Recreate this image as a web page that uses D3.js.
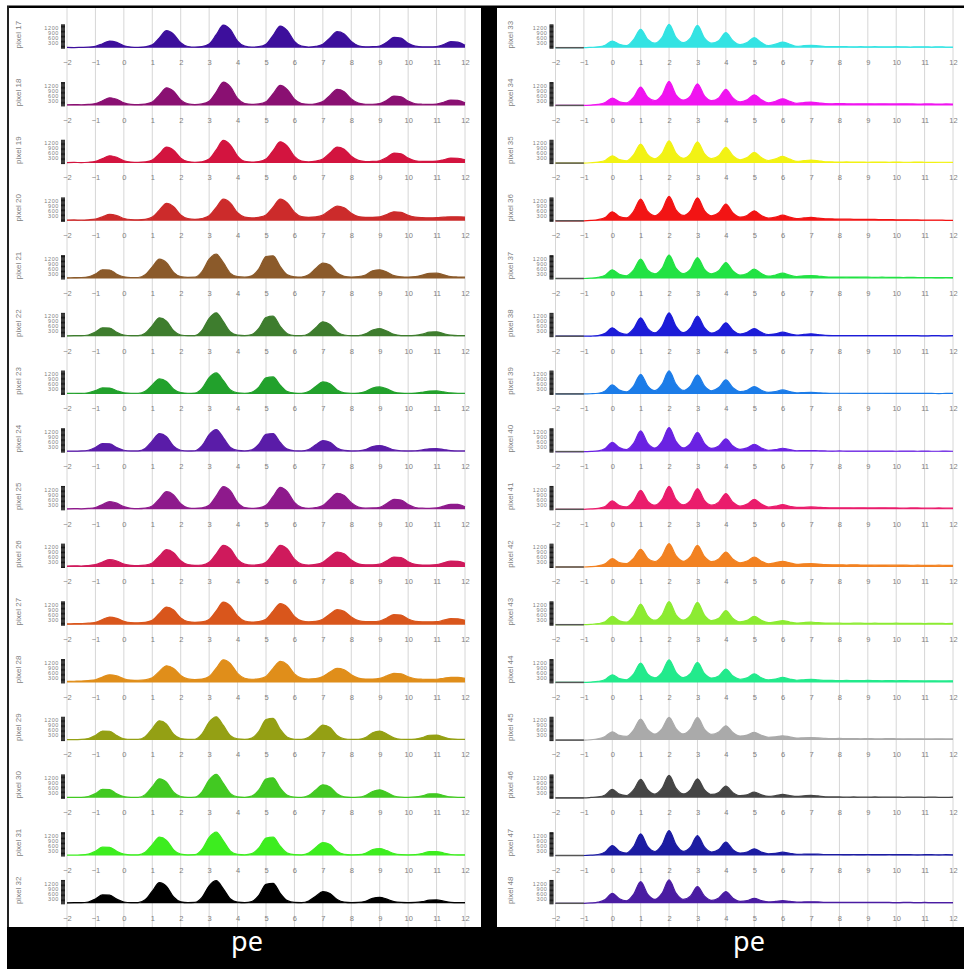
<!DOCTYPE html>
<html><head><meta charset="utf-8">
<script src="https://cdn.jsdelivr.net/npm/d3@7"></script>
<style>body{margin:0;background:#fff}text{font-family:"Liberation Sans",Arial,sans-serif}</style>
</head><body>
<svg id="c" width="964" height="969"></svg>
<script>
// histogram bin centres (pe), step 0.25 from -2 to 12
const binX = [-2,-1.75,-1.5,-1.25,-1,-0.75,-0.5,-0.25,0,0.25,0.5,0.75,1,1.25,1.5,1.75,2,2.25,2.5,2.75,3,3.25,3.5,3.75,4,4.25,4.5,4.75,5,5.25,5.5,5.75,6,6.25,6.5,6.75,7,7.25,7.5,7.75,8,8.25,8.5,8.75,9,9.25,9.5,9.75,10,10.25,10.5,10.75,11,11.25,11.5,11.75,12];
const xTicks = [-2,-1,0,1,2,3,4,5,6,7,8,9,10,11,12];
const yTickLabels = [300,600,900,1200];

const leftPixels = [17,18,19,20,21,22,23,24,25,26,27,28,29,30,31,32];
const rightPixels = [33,34,35,36,37,38,39,40,41,42,43,44,45,46,47,48];
const leftColors = ["#3d0f9c","#8a1072","#d3143f","#cc2b2b","#8b5a2a","#3e7d2e","#22a12c","#5a1ca8","#8e1a8c","#cf1a5c","#d9561c","#e08e1a","#94a014","#42c922","#3ded1f","#000000"];
const rightColors = ["#33e3e3","#f014f0","#f2f214","#f21414","#22e244","#1c1cd8","#1c7ce8","#6a22e2","#ea1c6c","#f28222","#8ceb32","#22ea8c","#aaaaaa","#454545","#1c1ca2","#4a1ca2"];

const p17=[20,10,20,30,80,240,400,320,120,40,20, 50,170,590,1020,810,300,70,30, 60,220,780,1360,1080,400,90,30, 60,210,740,1300,1030,380,90,40, 80,210,590,960,820,380,120,50, 60,100,320,620,570,260,90,50, 50,70,190,360,330,150];
const p18=[40,50,40,60,110,280,460,370,150,60,50, 80,200,620,1060,850,330,100,50, 90,250,800,1400,1110,420,110,60, 90,220,700,1200,950,370,110,60, 100,230,600,960,820,390,140,70, 70,110,310,560,520,260,100,70, 60,80,190,320,300,150];
const p19=[30,40,30,50,100,270,440,350,140,60,40, 70,180,560,960,770,300,90,50, 80,240,790,1360,1080,420,110,60, 90,240,750,1280,1020,400,120,70, 120,250,610,960,830,410,160,90, 100,140,340,600,560,300,140,100, 100,120,200,300,290,200];
const p20=[40,50,40,60,100,240,380,310,140,70,60, 90,220,640,1040,840,350,130,90, 140,300,800,1300,1060,480,220,170, 210,350,820,1300,1070,520,250,200, 230,340,640,880,780,450,250,200, 200,230,380,540,510,330,220,190, 180,190,220,240,240,220];
const p21=[40,50,60,100,270,520,510,260,100,60,60, 220,700,1160,950,370,110,70,80, 420,1160,1460,950,310,110,80, 160,580,1320,1360,720,220,100,90, 220,600,920,810,340,130,90, 110,210,460,520,390,170,100,90, 110,200,310,320,220,110,90,80];
const p22=[20,30,30,70,250,500,490,240,70,30,30, 180,640,1100,900,330,70,30,40, 350,1070,1400,870,250,60,30, 100,470,1120,1200,590,150,40,30, 150,510,860,700,260,70,30, 40,140,370,460,310,110,40,30, 50,120,240,260,150,60,30,30];
const p23=[30,40,30,70,200,360,350,190,70,40,40, 160,540,900,750,280,80,40,50, 330,970,1260,800,240,70,40, 100,410,960,1020,520,140,50,40, 140,440,720,610,240,70,40, 50,140,350,420,300,110,50,40, 50,100,170,180,120,60,40,40];
const p24=[30,30,40,80,250,480,470,240,80,40,40, 190,640,1080,890,330,80,40,50, 350,1020,1320,830,250,70,40, 100,440,1030,1080,550,150,50,40, 130,410,660,560,220,70,40, 50,120,300,360,260,100,50,40, 50,100,170,180,120,60,40,40];
const p25=[30,40,30,50,110,290,460,370,160,60,40, 70,200,630,1060,860,330,90,50, 80,240,800,1360,1100,420,110,60, 90,240,770,1320,1060,410,120,60, 100,230,610,960,830,400,140,70, 80,120,340,600,560,280,110,70, 60,80,190,300,290,150];
const p26=[60,70,60,90,140,300,440,360,180,100,80, 110,240,660,1040,860,380,150,100, 120,280,790,1300,1080,460,170,110, 140,290,800,1300,1080,470,180,120, 160,290,620,900,790,420,190,130, 130,170,380,600,570,320,160,120, 120,140,250,360,340,220];
const p27=[50,60,70,90,140,310,460,380,200,120,110, 140,260,680,1060,880,410,190,140, 170,320,830,1360,1120,520,220,160, 190,330,820,1260,1050,490,230,170, 200,330,640,900,800,460,240,180, 180,220,400,600,580,340,200,170, 170,180,270,360,350,260];
const p28=[60,70,80,110,160,320,460,390,220,140,130, 160,280,660,1000,840,420,210,170, 200,350,850,1360,1130,540,250,190, 220,360,840,1260,1060,510,260,200, 230,350,620,840,760,460,260,200, 200,240,390,540,520,340,220,190, 180,190,250,300,300,240];
const p29=[30,30,40,90,280,540,530,270,80,40,40, 200,690,1160,960,350,90,40,50, 370,1080,1400,880,260,70,40, 120,520,1230,1300,650,170,50,40, 170,540,900,750,280,80,40, 50,160,440,540,370,130,50,40, 60,150,290,300,180,70,40,40];
const p30=[20,30,30,80,250,500,490,240,70,30,30, 190,670,1140,930,340,80,30,40, 360,1070,1400,870,250,60,30, 100,470,1120,1200,590,150,40,30, 140,470,780,650,240,60,30, 40,140,380,480,320,110,40,30, 50,120,230,240,140,50,30,30];
const p31=[30,30,40,80,260,500,490,250,80,40,40, 190,650,1100,910,340,80,40,50, 370,1080,1400,880,260,70,40, 110,450,1050,1100,560,150,50,40, 150,480,780,660,250,70,40, 50,130,350,420,290,110,50,40, 50,120,230,240,150,60,40,40];
const p32=[30,40,40,80,260,500,490,250,80,40,40, 210,730,1240,1020,380,90,40,50, 350,1050,1360,860,260,70,40, 110,480,1140,1200,600,160,50,40, 140,430,700,590,230,70,40, 50,120,300,360,250,100,50,40, 50,100,190,200,130,60,40,40];

const p33=[0,0,0,0,0, 20,50,150,400,200,120, 480,1100,490,270, 600,1400,600,300, 570,1340,570,270, 420,900,420,180, 310,600,310,120, 210,340,210,80, 120,140,110,70, 60,70,60,50,60,50,60,50,50,60,50,40,50,50,40,50,40,40];
const p34=[0,0,0,0,0, 20,60,170,440,220,150, 480,1100,490,290, 620,1440,620,320, 560,1300,560,290, 450,960,450,210, 340,640,340,150, 250,400,250,120, 170,200,160,110, 100,110,100,90,100,100,90,100,90,90,100,90,80,90,90,80,90,80];
const p35=[0,0,0,0,0, 20,60,160,440,210,140, 500,1140,500,260, 580,1340,580,290, 560,1280,560,270, 440,940,440,200, 330,640,330,150, 250,400,240,100, 150,180,140,80, 70,60,70,60,60,50,60,60,50,60,50,50,60,50,40,50,50,40];
const p36=[0,0,0,0,0, 20,70,200,540,260,170, 560,1300,560,300, 640,1460,640,320, 600,1380,600,300, 480,1000,470,220, 320,600,320,160, 220,340,220,130, 170,200,160,120, 110,100,100,90,90,80,80,70,70,60,60,50,50,40,40,40,30,30];
const p37=[0,0,0,0,0, 20,70,190,520,250,160, 500,1160,500,280, 610,1400,610,300, 550,1260,550,280, 460,960,450,200, 300,560,300,140, 210,320,200,120, 160,180,150,100, 90,90,80,90,80,80,70,80,70,70,60,70,60,60,60,50,60,50];
const p38=[0,0,0,0,0, 10,40,170,500,220,110, 450,1100,450,200, 580,1400,580,210, 500,1200,500,190, 360,800,350,130, 230,460,230,90, 140,240,140,60, 110,140,100,50, 40,40,30,40,30,30,40,30,30,30,30,30,30,20,30,30,20,30];
const p39=[0,0,0,0,0, 10,40,180,540,230,120, 470,1180,470,200, 570,1380,570,210, 470,1140,470,190, 380,840,370,140, 220,440,220,90, 140,240,140,60, 80,90,70,50, 40,40,40,30,40,30,30,40,30,30,30,30,30,30,30,20,30,30];
const p40=[0,0,0,0,0, 10,40,190,560,240,120, 490,1240,490,210, 600,1440,600,220, 480,1160,480,190, 340,760,330,130, 220,440,220,80, 120,200,120,50, 60,60,50,40, 30,40,30,30,30,30,30,30,30,20,30,30,20,30,20,20,30,20];
const p41=[0,0,0,0,0, 20,60,170,500,230,140, 480,1140,480,250, 580,1380,580,270, 520,1240,520,250, 430,940,420,190, 310,600,310,130, 190,280,180,110, 120,140,120,100, 90,90,90,80,90,80,80,90,80,80,70,80,80,70,70,80,70,70];
const p42=[0,0,0,0,0, 20,70,190,500,260,200, 520,1060,520,320, 660,1400,660,340, 620,1300,620,320, 480,900,470,250, 360,600,350,190, 260,340,250,160, 190,200,180,140, 130,130,120,130,120,120,110,120,110,110,120,100,110,100,100,110,100,100];
const p43=[0,0,0,0,0, 20,60,170,500,230,150, 520,1240,520,270, 580,1380,580,280, 560,1340,560,250, 380,840,380,170, 260,500,260,120, 170,240,160,100, 130,150,120,100, 90,90,80,90,90,80,90,80,80,90,80,80,80,70,80,80,70,80];
const p44=[0,0,0,0,0, 20,60,170,460,230,160, 500,1160,500,280, 590,1360,590,290, 520,1200,520,260, 380,800,380,190, 280,520,280,150, 200,300,200,130, 160,180,150,120, 120,110,120,110,110,120,110,100,110,100,110,100,100,90,100,90,90,100];
const p45=[0,0,0,0,0, 20,80,220,500,280,220, 600,1260,620,360, 680,1360,680,370, 660,1360,640,340, 480,860,450,240, 300,460,290,170, 200,260,190,120, 140,150,130,100, 90,100,90,90,80,90,80,80,90,80,70,80,80,70,70,80,70,70];
const p46=[0,0,0,0,0, 20,50,170,500,220,130, 470,1100,470,220, 560,1340,560,230, 480,1140,480,200, 320,700,310,130, 180,340,180,90, 130,200,130,80, 120,150,110,60, 50,50,40,50,40,40,50,40,40,40,30,40,40,30,40,30,30,40];
const p47=[0,0,0,0,0, 20,60,210,600,260,150, 530,1300,530,240, 640,1500,640,250, 500,1200,500,210, 360,800,350,150, 210,400,210,100, 130,200,130,70, 80,90,80,60, 60,60,50,60,50,60,50,50,60,50,50,50,40,50,50,40,50,40];
const p48=[0,0,0,0,0, 20,70,220,600,270,150, 540,1300,540,240, 600,1400,590,230, 430,1000,430,180, 320,700,310,120, 160,300,160,80, 110,160,110,70, 80,90,80,60, 60,60,50,60,50,50,60,50,50,40,50,50,40,50,40,40,40,40];

const leftSeries = [p17,p18,p19,p20,p21,p22,p23,p24,p25,p26,p27,p28,p29,p30,p31,p32];
const rightSeries = [p33,p34,p35,p36,p37,p38,p39,p40,p41,p42,p43,p44,p45,p46,p47,p48];

const svg = d3.select("#c");
const rowBase = i => i < 15 ? 47.7 + 57.7*i : 903.3;
const FONT = "Liberation Sans, Arial, sans-serif";

const panels = [
  {range:[67,465], pixels:leftPixels, colors:leftColors, series:leftSeries, labelX:18, peX:247, underflow:false},
  {range:[555.5,953], pixels:rightPixels, colors:rightColors, series:rightSeries, labelX:510, peX:749, underflow:true}
];

panels.forEach(p => {
  const xs = d3.scaleLinear().domain([-2,12]).range(p.range);
  const g = svg.append("g");
  g.selectAll("line.grid").data(xTicks).join("line").attr("class","grid")
    .attr("x1",d=>xs(d)).attr("x2",d=>xs(d)).attr("y1",8).attr("y2",927)
    .attr("stroke","#d6d6d6").attr("stroke-width",1);

  p.series.forEach((vals,i) => {
    const b = rowBase(i);
    const ys = d3.scaleLinear().domain([0,1500]).range([b, b-25]);
    const row = g.append("g");
    const area = d3.area().x((d,k)=>xs(binX[k])).y0(b).y1(d=>ys(d)).curve(d3.curveMonotoneX);
    const line = d3.line().x((d,k)=>xs(binX[k])).y(d=>ys(d)).curve(d3.curveMonotoneX);
    row.append("path").attr("d",area(vals)).attr("fill",p.colors[i]);
    row.append("path").attr("d",line(vals)).attr("fill","none").attr("stroke",p.colors[i]).attr("stroke-width",1.2);
    if (p.underflow) {
      row.append("line").attr("x1",xs(-2)).attr("x2",xs(-1)).attr("y1",b).attr("y2",b)
        .attr("stroke","#555").attr("stroke-width",1.5);
    }
    const xa = row.append("g").attr("transform",`translate(0,${b+12})`)
      .call(d3.axisBottom(xs).tickValues(xTicks).tickSize(0).tickPadding(0));
    xa.select(".domain").remove();
    xa.selectAll("text").attr("font-size","7.5px").style("fill","#808080").style("font-family",FONT);
    const ya = row.append("g").attr("transform",`translate(${xs(-2)-2},0)`)
      .call(d3.axisLeft(ys).tickValues(d3.range(0,1401,50)).tickSize(4).tickPadding(2)
        .tickFormat(d => yTickLabels.includes(d) ? d : ""));
    ya.select(".domain").remove();
    ya.selectAll("line").attr("stroke","#1a1a1a");
    ya.selectAll("text").attr("font-size","5.5px").attr("letter-spacing","0.6px").style("fill","#808080").style("font-family",FONT);
    row.append("text").attr("transform",`translate(${p.labelX},${b-13}) rotate(-90)`)
      .attr("text-anchor","middle").attr("dy","0.35em").attr("font-size","8px").style("fill","#808080")
      .text("pixel " + p.pixels[i]);
  });
});

// frame
svg.append("rect").attr("x",7).attr("y",5.5).attr("width",957).attr("height",2.5).attr("fill","#000");
svg.append("rect").attr("x",7).attr("y",6).attr("width",2).attr("height",922).attr("fill","#222");
svg.append("rect").attr("x",481).attr("y",6).attr("width",16).attr("height",963).attr("fill","#000");
svg.append("rect").attr("x",7).attr("y",927).attr("width",957).attr("height",42).attr("fill","#000");
panels.forEach(p => {
  svg.append("text").attr("x",p.peX).attr("y",951).attr("text-anchor","middle")
    .attr("font-size","27px").style("fill","#fff").style("font-family","Noto Sans, sans-serif").text("pe");
});
</script>
</body></html>
